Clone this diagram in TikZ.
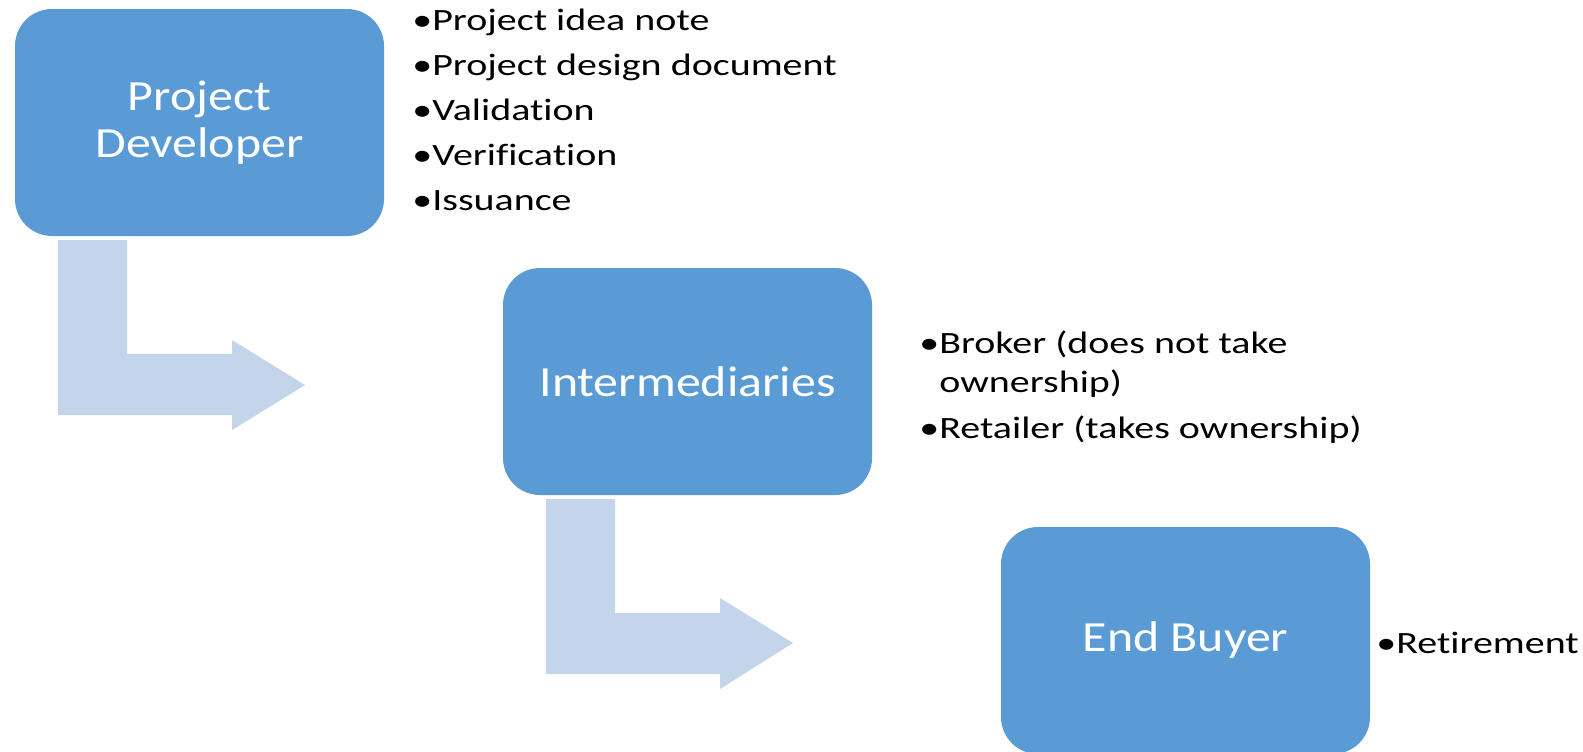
\documentclass[tikz,border=0pt]{standalone}
\usepackage{fontspec}
\setmainfont{Carlito}
\newfontfamily\boxfont[FakeStretch=1.16,RawFeature=-liga]{Carlito}
\newfontfamily\listfont[FakeStretch=1.29,RawFeature=-liga]{Carlito}
\definecolor{boxblue}{HTML}{5B9BD5}
\definecolor{arrowblue}{HTML}{C4D5EB}
\begin{document}
\begin{tikzpicture}[x=0.5pt,y=-0.5pt,
  stage/.style={fill=boxblue, draw=none, rounded corners=18.5pt, minimum width=184.5pt, minimum height=113.5pt, text=white, align=center, font=\boxfont\fontsize{21.5}{23.5}\selectfont, inner sep=0pt},
  bent/.style={fill=arrowblue, draw=none},
  item/.style={anchor=base west, inner sep=0pt, font=\listfont\fontsize{15.5}{19.5}\selectfont, text=black}]
\useasboundingbox (0,0) rectangle (1583,751);

% stages
\node[stage] (pd) at (199.5,122.5) {Project\\Developer};
\node[stage] (im) at (687.5,381.5) {Intermediaries};
\node[stage] (eb) at (1185.5,640.5) {End Buyer};

% bent arrows
\draw[bent] (58,240) -- (127,240) -- (127,354) -- (232,354) -- (232,340) -- (305,385) -- (232,430) -- (232,415) -- (58,415) -- cycle;
\draw[bent] (546,499) -- (615,499) -- (615,613) -- (720,613) -- (720,598) -- (793,643) -- (720,689) -- (720,674) -- (546,674) -- cycle;

% bullet lists
\node[item] (l1) at (412,30) {•Project idea note};
\node[item] (l2) at (412,75) {•Project design document};
\node[item] (l3) at (412,120) {•Validation};
\node[item] (l4) at (412,165.5) {•Verification};
\node[item] (l5) at (412,210.5) {•Issuance};

\node[item] (m1) at (919,353) {•Broker (does not take};
\node[item] (m1b) at (939,392) {ownership)};
\node[item] (m2) at (919,438) {•Retailer (takes ownership)};

\node[item] (r1) at (1376,653) {•Retirement};
\end{tikzpicture}
\end{document}
